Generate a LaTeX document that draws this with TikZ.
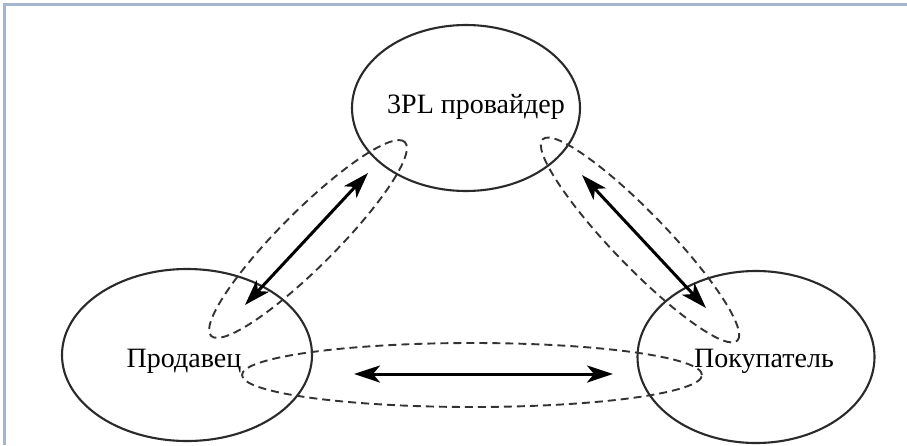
\documentclass[tikz,border=0pt]{standalone}
\usepackage{fontspec}
\setmainfont{Liberation Serif}
\usetikzlibrary{shapes.geometric,arrows.meta}
\definecolor{framecol}{HTML}{A3B6CF}
\definecolor{linecol}{HTML}{2A2A2A}
\definecolor{dashcol}{HTML}{333333}
\tikzset{
  party/.style={ellipse, draw=linecol, line width=2.1pt, inner sep=0pt},
  lbl/.style={anchor=base, inner sep=0pt, font=\fontsize{28}{32}\selectfont},
  zone/.style={ellipse, draw=dashcol, line width=1.9pt, dash pattern=on 8pt off 5pt, inner sep=0pt},
  flow/.style={line width=3pt, {Stealth[length=26pt,width=17pt,inset=7pt]}-{Stealth[length=26pt,width=17pt,inset=7pt]}}
}
\begin{document}
\begin{tikzpicture}[x=1pt,y=-1pt]
\useasboundingbox (0,0) rectangle (907,445);
\fill[white] (0,0) rectangle (907,445);
\draw[framecol, line width=2.2pt] (4.5,445) -- (4.5,4.5) -- (907,4.5);
% main parties
\node[party, minimum width=228pt, minimum height=166pt] (tpl) at (466,108) {};
\node[party, minimum width=250pt, minimum height=172pt] (seller) at (187,355) {};
\node[party, minimum width=237pt, minimum height=172pt] (buyer) at (756,357) {};
\node[lbl] (tpltext) at (476,113) {3PL провайдер};
\node[lbl] (sellertext) at (184,367) {Продавец};
\node[lbl] (buyertext) at (764,367) {Покупатель};
% dashed zones
\node[zone, minimum width=274pt, minimum height=56pt, rotate=45] (zl) at (308,239) {};
\node[zone, minimum width=280pt, minimum height=54pt, rotate=-46] (zr) at (640,240) {};
\node[zone, minimum width=460pt, minimum height=64pt] (zb) at (472,375) {};
% arrow ends
\coordinate (l1) at (245,305);
\coordinate (l2) at (368,173);
\coordinate (r1) at (582,175);
\coordinate (r2) at (706,308);
\coordinate (b1) at (354,374);
\coordinate (b2) at (613,374);
\draw[flow] (l1) -- (l2);
\draw[flow] (r1) -- (r2);
\draw[flow] (b1) -- (b2);
\end{tikzpicture}
\end{document}
